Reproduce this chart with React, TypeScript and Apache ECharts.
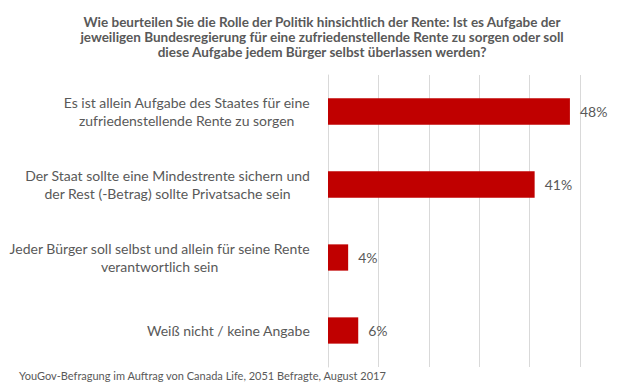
import React, { useEffect, useRef } from "react";
import * as echarts from "echarts";

const titleLines = [
  "Wie beurteilen Sie die Rolle der Politik hinsichtlich der Rente: Ist es Aufgabe der",
  "jeweiligen Bundesregierung für eine zufriedenstellende Rente zu sorgen oder soll",
  "diese Aufgabe jedem Bürger selbst überlassen werden?",
];
const categories = [
  ["Es ist allein Aufgabe des Staates für eine", "zufriedenstellende Rente zu sorgen"],
  ["Der Staat sollte eine Mindestrente sichern und", "der Rest (-Betrag) sollte Privatsache sein"],
  ["Jeder Bürger soll selbst und allein für seine Rente", "verantwortlich sein"],
  ["Weiß nicht / keine Angabe"],
];
const values = [48, 41, 4, 6];
const sourceText = "YouGov-Befragung im Auftrag von Canada Life, 2051 Befragte, August 2017";

const FONT = "Lato";
const GRAY = "#595959";

export default function App() {
  const ref = useRef<HTMLDivElement>(null);
  useEffect(() => {
    if (!ref.current) return;
    const chart = echarts.init(ref.current, null, { renderer: "svg" });
    chart.setOption({
      animation: false,
      backgroundColor: "#ffffff",
      title: [
        {
          text: titleLines.join("\n"),
          left: 322,
          top: 14,
          padding: 0,
          textAlign: "center",
          textStyle: {
            fontFamily: FONT,
            fontSize: 13.5,
            fontWeight: "bold",
            color: GRAY,
            lineHeight: 15,
          },
        },
        {
          text: sourceText,
          left: 19,
          top: 369,
          padding: 0,
          textStyle: { fontFamily: FONT, fontSize: 11, fontWeight: "normal", color: GRAY, lineHeight: 13 },
        },
      ],
      grid: { left: 328, right: 41, top: 75, bottom: 16, containLabel: false },
      xAxis: {
        type: "value",
        min: 0,
        max: 50,
        interval: 10,
        axisLabel: { show: false },
        axisLine: { show: false },
        axisTick: { show: false },
        splitLine: { show: true, lineStyle: { color: "#d9d9d9", width: 1 } },
      },
      yAxis: {
        type: "category",
        inverse: true,
        data: categories.map((c) => c.join("\n")),
        axisLine: { show: true, lineStyle: { color: "#d9d9d9", width: 1 } },
        axisTick: { show: false },
        axisLabel: {
          margin: 18,
          align: "right",
          formatter: (v: string) =>
            v
              .split("\n")
              .map((l) => "{c|" + l + "}")
              .join("\n"),
          rich: {
            c: { align: "center", fontFamily: FONT, fontSize: 14, color: GRAY, lineHeight: 18 },
          },
        },
      },
      series: [
        {
          type: "bar",
          data: values,
          barCategoryGap: "64%",
          itemStyle: { color: "#C00000" },
          label: {
            show: true,
            position: "right",
            distance: 10,
            formatter: "{c}%",
            fontFamily: FONT,
            fontSize: 14,
            color: GRAY,
          },
        },
      ],
    });
    return () => chart.dispose();
  }, []);
  return (
    <div
      ref={ref}
      style={{ position: "fixed", left: 0, top: 0, width: 621, height: 383 }}
    />
  );
}
